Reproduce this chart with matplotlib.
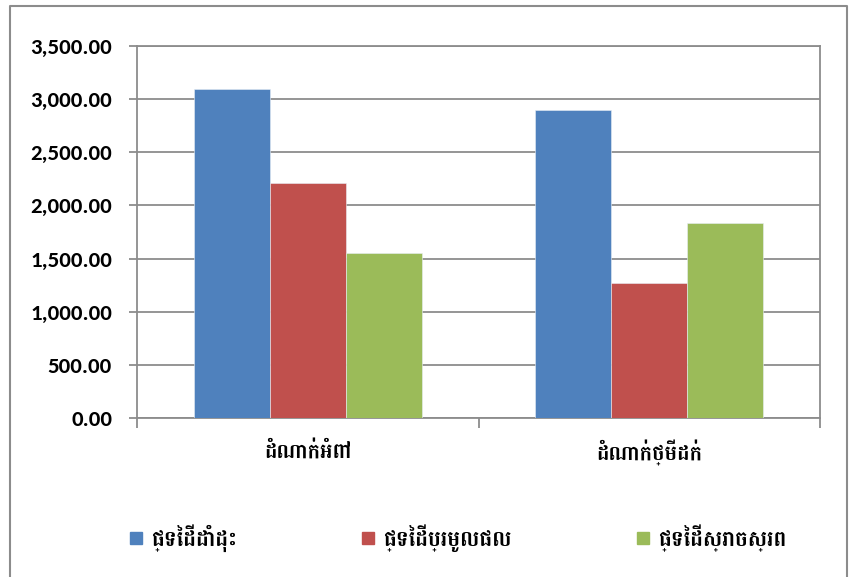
import numpy as np
import matplotlib
matplotlib.use("Agg")
import matplotlib.pyplot as plt
from matplotlib.lines import Line2D
from matplotlib.ticker import FuncFormatter

categories = ["ដំណាក់អំពៅ", "ដំណាក់ថ្មីដក់"]
series_names = ["ផ្ទៃដីដាំដុះ", "ផ្ទៃដីប្រមូលផល", "ផ្ទៃដីស្រោចស្រព"]
planted = [3100, 2895]
harvested = [2210, 1270]
irrigated = [1550, 1835]
colors = ["#4F81BD", "#C0504D", "#9BBB59"]

num_font = ["Carlito", "Liberation Sans", "DejaVu Sans"]
khmer_font = ["Battambang", "Noto Sans Khmer", "DejaVu Sans"]

fig = plt.figure(figsize=(8.49, 5.77), dpi=100)
ax = fig.add_axes([137/849, 1-418/577, (820-137)/849, (418-46)/577])

w = 1/4.5
x = np.arange(len(categories)) + 0.5
for i, vals in enumerate([planted, harvested, irrigated]):
    ax.bar(x + (i-1)*w, vals, w, color=colors[i], edgecolor="#e8eef6", linewidth=0.4,
           label=series_names[i], zorder=3)

ax.set_xlim(0, 2)
ax.set_ylim(0, 3500)
ax.set_yticks(np.arange(0, 3501, 500))
ax.yaxis.set_major_formatter(FuncFormatter(lambda v, p: f"{v:,.2f}"))
ax.grid(axis="y", color="#8c8c8c", linewidth=1.3, zorder=0)
for lab in ax.get_yticklabels():
    lab.set_fontfamily(num_font)
    lab.set_fontweight("bold")
    lab.set_fontsize(16.5)
ax.tick_params(axis="y", length=6, width=1.3, color="#8c8c8c", pad=12)

ax.set_xticks([0, 1, 2])
ax.set_xticklabels([])
ax.set_xticks(x, minor=True)
ax.set_xticklabels(categories, minor=True, fontfamily=khmer_font, fontweight="bold", fontsize=15)
ax.tick_params(axis="x", which="major", length=7, width=1.3, color="#8c8c8c")
ax.tick_params(axis="x", which="minor", length=0, pad=16)

for s in ax.spines.values():
    s.set_color("#8c8c8c")
    s.set_linewidth(1.3)

handles = [Line2D([], [], marker="s", linestyle="none", markersize=8.5,
                  markerfacecolor=c, markeredgecolor=c) for c in colors]
fig.legend(handles, series_names, loc="center", bbox_to_anchor=(458/849, 1-538/577),
           ncol=3, frameon=False, handlelength=0.6, handletextpad=0.4, columnspacing=5.8,
           prop={"family": khmer_font, "weight": "bold", "size": 15.5})

# outer chart border
fig.add_artist(Line2D([10/849, 10/849, 847/849, 847/849], [-0.1, 1-6/577, 1-6/577, -0.1],
                      transform=fig.transFigure, color="#8c8c8c", linewidth=1.5))

fig.savefig("out.png", dpi=100)
